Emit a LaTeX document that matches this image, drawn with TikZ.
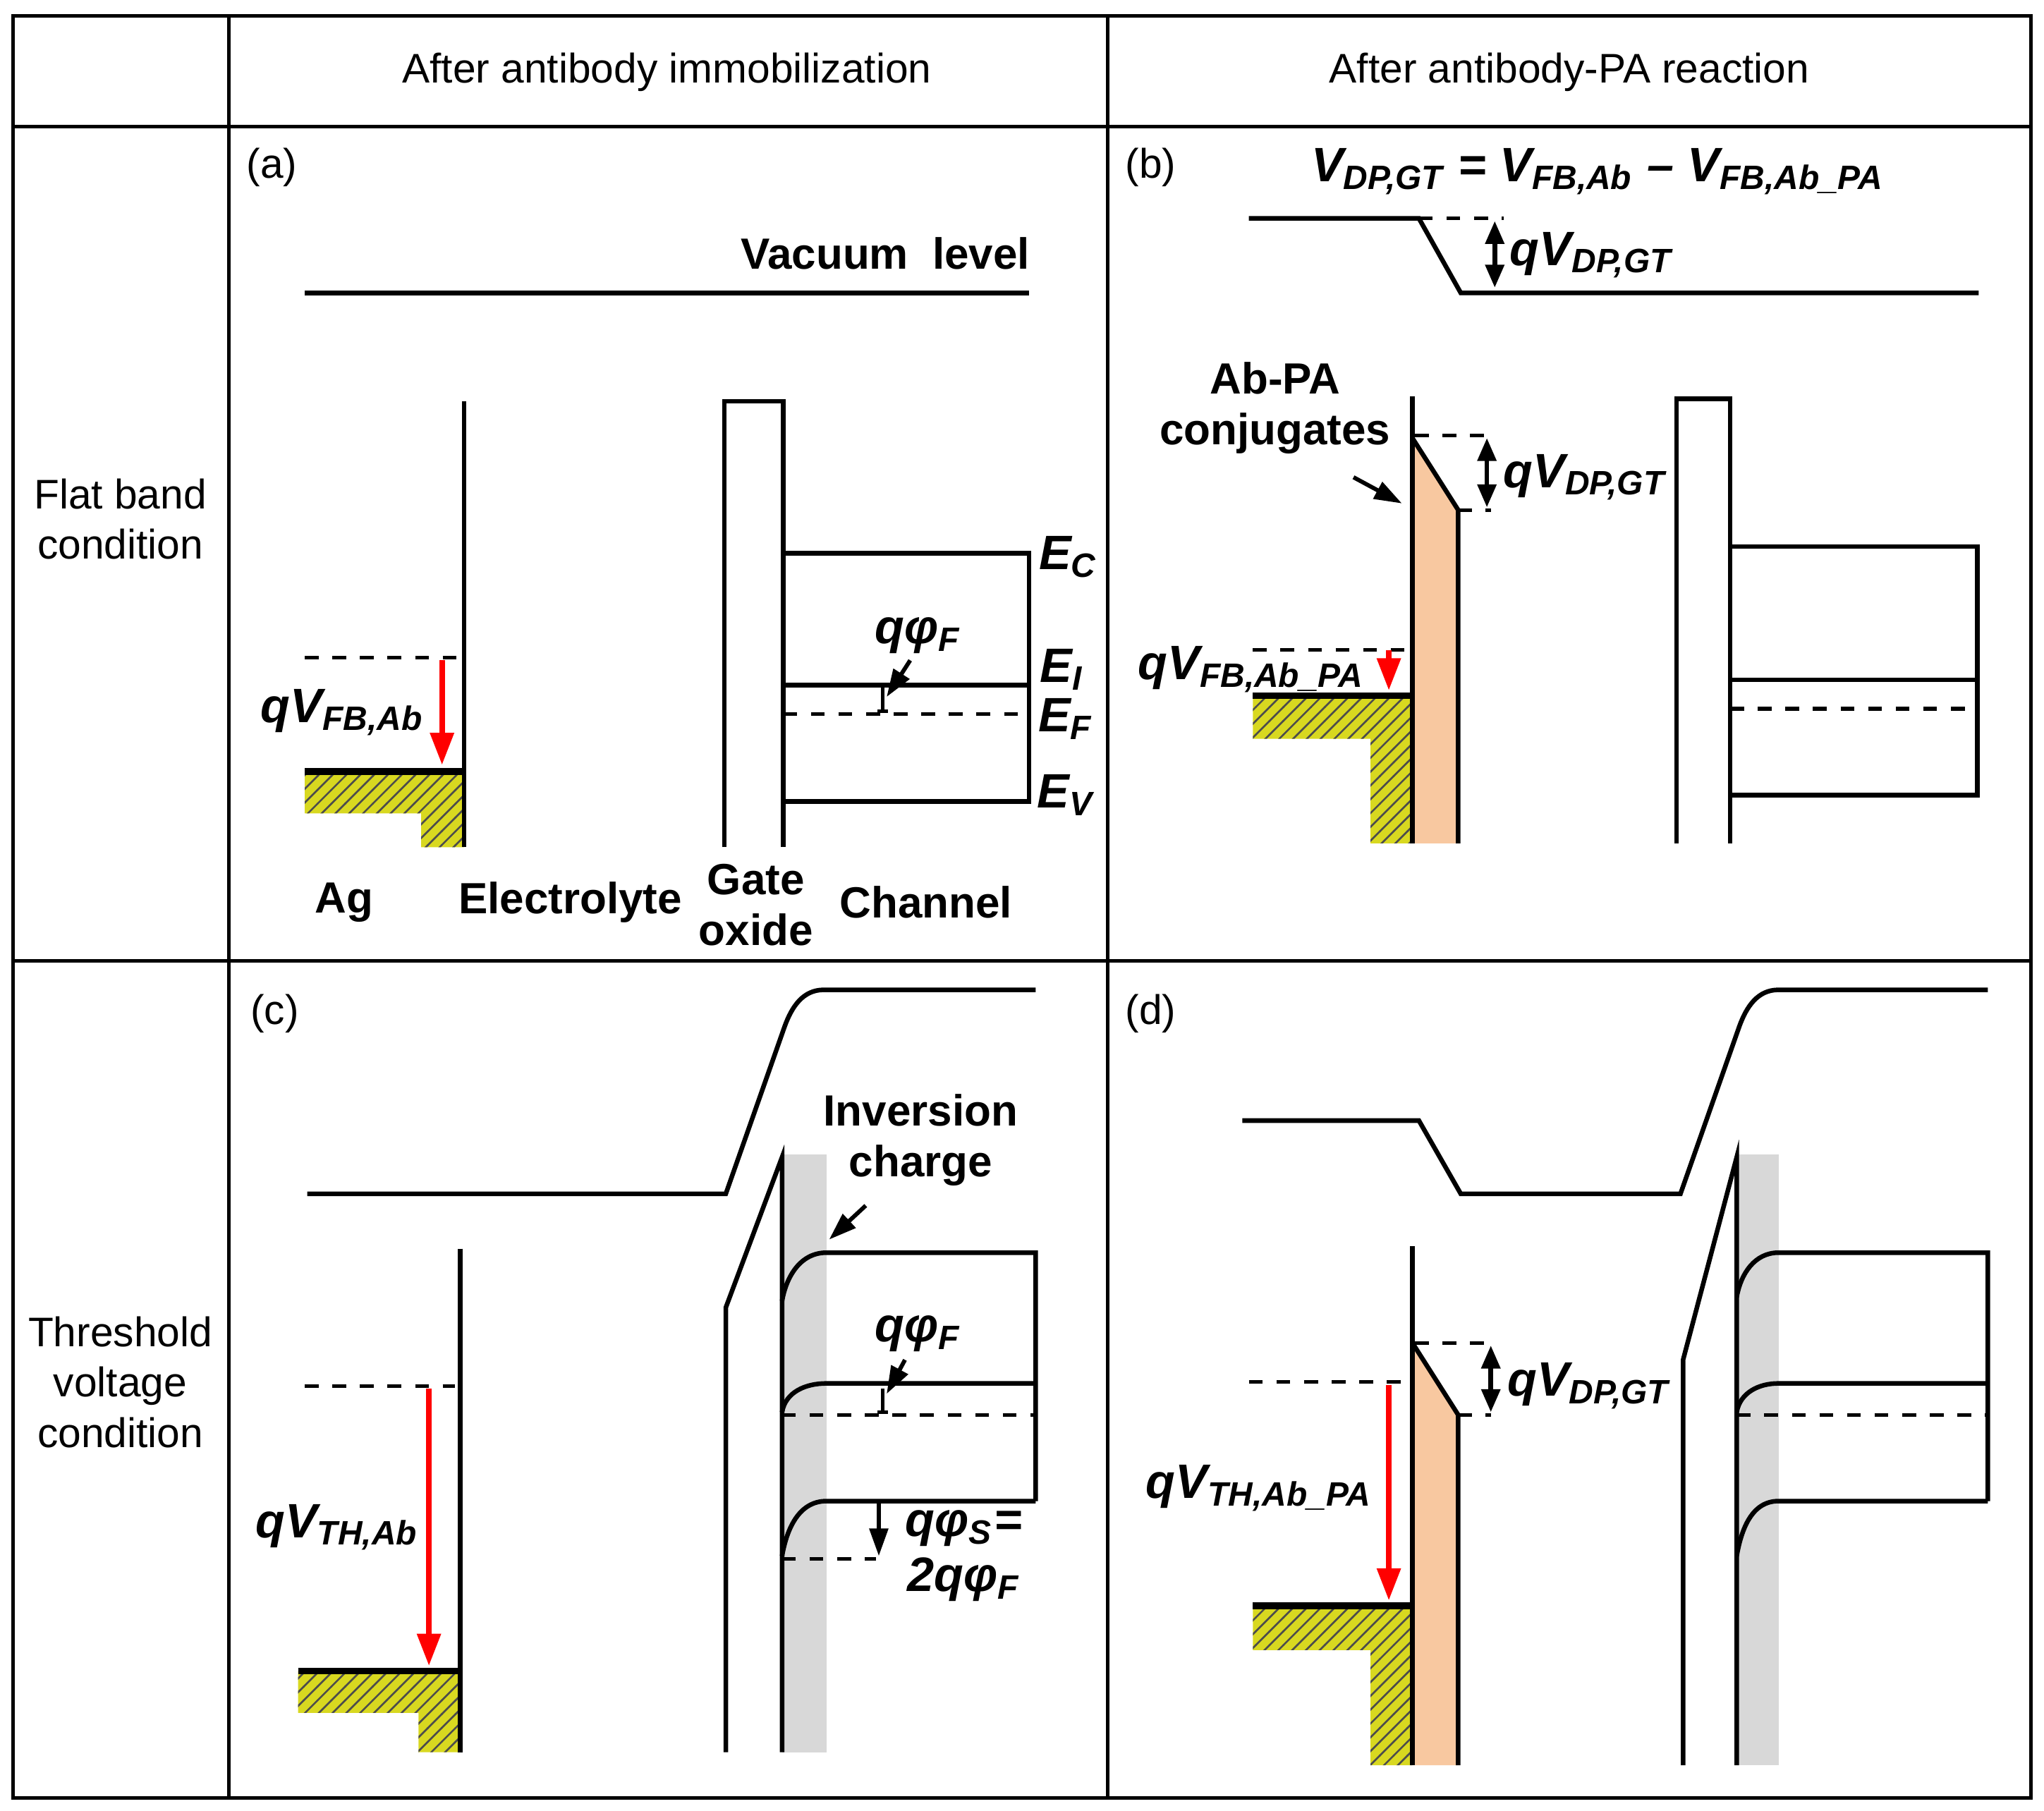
\documentclass[tikz,border=0pt]{standalone}
\usepackage{fontspec}
\setmainfont{Liberation Sans}
\usetikzlibrary{patterns,arrows.meta}
\definecolor{ylw}{HTML}{D8D820}
\definecolor{peach}{HTML}{F8C8A0}
\definecolor{gband}{HTML}{D8D8D8}
\newcommand\sbx[1]{\textsubscript{#1}}
\begin{document}
\begin{tikzpicture}[x=0.01cm,y=-0.01cm,line width=1pt,
  lbl/.style={font=\fontsize{9}{11}\selectfont,align=center},
  bl/.style={font=\fontsize{9.5}{11}\selectfont\bfseries,align=center},
  ql/.style={font=\fontsize{10.5}{12}\selectfont\bfseries\itshape,align=center},
  dsh/.style={dashed,line width=0.8pt},
  red/.style={draw=red,-{Triangle[length=7pt,width=5pt]},line width=1.2pt},
  dbl/.style={{Triangle[length=5pt,width=4pt]}-{Triangle[length=5pt,width=4pt]},line width=1pt},
  sar/.style={-{Triangle[length=6pt,width=4pt]},line width=0.9pt}]
\useasboundingbox (0,0) rectangle (1563,1385);
% table
\draw[line width=0.8pt] (10,12) rectangle (1553,1375);
\draw[line width=0.8pt] (175,12)--(175,1375) (847,12)--(847,1375) (10,97)--(1553,97) (10,735)--(1553,735);
\node[lbl] (h1) at (510,55) {After antibody immobilization};
\node[lbl] (h2) at (1200,55) {After antibody-PA reaction};
\node[lbl] (r1) at (92,397) {Flat band\\condition};
\node[lbl] (r2) at (92,1057) {Threshold\\voltage\\condition};
% ===== (a)
\node[lbl] (la) at (208,128) {(a)};
\draw (233,224)--(787,224);
\node[bl] (vac) at (677,194) {Vacuum\ \ level};
\fill[ylw] (233,590)--(355,590)--(355,648)--(322,648)--(322,622)--(233,622)--cycle;
\fill[pattern=north east lines,pattern color=black!70] (233,590)--(355,590)--(355,648)--(322,648)--(322,622)--(233,622)--cycle;
\draw (355,307)--(355,648);
\draw[line width=1.5pt] (233,590)--(355,590);
\draw[dsh] (233,503)--(350,503);
\coordinate (ra1) at (338,505); \coordinate (ra2) at (338,585);
\draw[red] (ra1)--(ra2);
\node[ql] (qa) at (262,545) {qV\sbx{FB,Ab}};
\draw (554,648)--(554,307)--(599,307)--(599,648);
\draw (599,423)--(787,423)--(787,613)--(599,613);
\draw (599,524)--(787,524);
\draw[dsh] (599,546)--(787,546);
\node[ql] at (817,426) {E\sbx{C}};
\node[ql] at (812,512) {E\sbx{I}};
\node[ql] at (815,550) {E\sbx{F}};
\node[ql] at (815,608) {E\sbx{V}};
\node[ql] (pfa) at (702,486) {qφ\sbx{F}};
\coordinate (pfat) at (678,533);
\draw[sar] (696,505) -- (pfat);
\draw[line width=0.7pt] (675,526)--(675,544) (671,544)--(679,544);
\node[bl] at (263,690) {Ag};
\node[bl] at (436,690) {Electrolyte};
\node[bl] at (578,692) {Gate\\oxide};
\node[bl] at (708,690) {Channel};
% ===== (b)
\node[lbl] (lb) at (880,128) {(b)};
\node[ql] (eq) at (1222,131) {V\sbx{DP,GT} = V\sbx{FB,Ab} -- V\sbx{FB,Ab\_PA}};
\draw (955,167)--(1085,167)--(1117,224)--(1513,224);
\draw[dsh] (1085,167)--(1150,167);
\draw[dbl] (1143,169)--(1143,220);
\node[ql] at (1217,195) {qV\sbx{DP,GT}};
\fill[ylw] (958,532)--(1080,532)--(1080,645)--(1048,645)--(1048,565)--(958,565)--cycle;
\fill[pattern=north east lines,pattern color=black!70] (958,532)--(1080,532)--(1080,645)--(1048,645)--(1048,565)--(958,565)--cycle;
\fill[peach] (1080,335)--(1115,390)--(1115,645)--(1080,645)--cycle;
\draw (1080,335)--(1115,390)--(1115,645);
\draw (1080,303)--(1080,645);
\draw[line width=1.5pt] (958,532)--(1080,532);
\draw[dsh] (1082,333)--(1140,333) (1115,390)--(1140,390);
\draw[dbl] (1137,335)--(1137,388);
\node[ql] at (1212,365) {qV\sbx{DP,GT}};
\node[bl] (abpa) at (975,312) {Ab-PA\\conjugates};
\coordinate (abt) at (1072,385);
\draw[sar] (1035,365)--(abt);
\draw[dsh] (958,497)--(1075,497);
\draw[red] (1062,497)--(1062,528);
\node[ql] at (957,512) {qV\sbx{FB,Ab\_PA}};
\draw (1282,645)--(1282,305)--(1323,305)--(1323,645);
\draw (1323,418)--(1512,418)--(1512,608)--(1323,608);
\draw (1323,520)--(1512,520);
\draw[dsh] (1323,542)--(1512,542);
% ===== (c)
\node[lbl] (lc) at (210,775) {(c)};
\draw (235,913)--(555,913)--(600,785) to[out=70,in=180] (630,757)--(792,757);
\fill[ylw] (228,1278)--(352,1278)--(352,1340)--(320,1340)--(320,1310)--(228,1310)--cycle;
\fill[pattern=north east lines,pattern color=black!70] (228,1278)--(352,1278)--(352,1340)--(320,1340)--(320,1310)--(228,1310)--cycle;
\draw (352,955)--(352,1340);
\draw[line width=1.5pt] (228,1278)--(352,1278);
\draw[dsh] (233,1060)--(348,1060);
\draw[red] (328,1062)--(328,1274);
\node[ql] at (258,1168) {qV\sbx{TH,Ab}};
\fill[gband] (598,883) rectangle (632,1340);
\draw (555,1340)--(555,1000)--(598,885)--(598,1340);
\node[bl] (inv) at (704,872) {Inversion\\charge};
\draw[sar] (662,922)--(634,948);
\draw (598,995) to[out=80,in=180] (632,958)--(792,958)--(792,1148);
\draw (598,1190) to[out=80,in=180] (632,1148)--(792,1148);
\draw (598,1080) to[out=80,in=180] (632,1058)--(792,1058);
\draw[dsh] (598,1082)--(792,1082);
\node[ql] (pfc) at (702,1020) {qφ\sbx{F}};
\draw[sar] (692,1040)--(678,1066);
\draw[line width=0.7pt] (675,1062)--(675,1080) (671,1080)--(679,1080);
\draw[dsh] (598,1192)--(670,1192);
\draw[sar] (672,1150)--(672,1190);
\node[ql] at (737,1190) {qφ\sbx{S}=\\2qφ\sbx{F}};
% ===== (d)
\node[lbl] (ld) at (880,775) {(d)};
\draw (950,857)--(1085,857)--(1117,913)--(1285,913)--(1330,785) to[out=70,in=180] (1360,757)--(1520,757);
\fill[ylw] (958,1228)--(1080,1228)--(1080,1350)--(1048,1350)--(1048,1262)--(958,1262)--cycle;
\fill[pattern=north east lines,pattern color=black!70] (958,1228)--(1080,1228)--(1080,1350)--(1048,1350)--(1048,1262)--(958,1262)--cycle;
\fill[peach] (1080,1027)--(1115,1082)--(1115,1350)--(1080,1350)--cycle;
\draw (1080,1027)--(1115,1082)--(1115,1350);
\draw (1080,953)--(1080,1350);
\draw[line width=1.5pt] (958,1228)--(1080,1228);
\draw[dsh] (1082,1027)--(1140,1027) (1115,1082)--(1140,1082);
\draw[dbl] (1140,1029)--(1140,1080);
\node[ql] at (1215,1060) {qV\sbx{DP,GT}};
\draw[dsh] (955,1057)--(1075,1057);
\draw[red] (1062,1059)--(1062,1224);
\node[ql] at (963,1138) {qV\sbx{TH,Ab\_PA}};
\fill[gband] (1328,883) rectangle (1360,1350);
\draw (1287,1350)--(1287,1040)--(1328,885)--(1328,1350);
\draw (1328,992) to[out=80,in=180] (1360,958)--(1520,958)--(1520,1148);
\draw (1328,1190) to[out=80,in=180] (1360,1148)--(1520,1148);
\draw (1328,1080) to[out=80,in=180] (1360,1058)--(1520,1058);
\draw[dsh] (1328,1082)--(1520,1082);
\end{tikzpicture}
\end{document}
